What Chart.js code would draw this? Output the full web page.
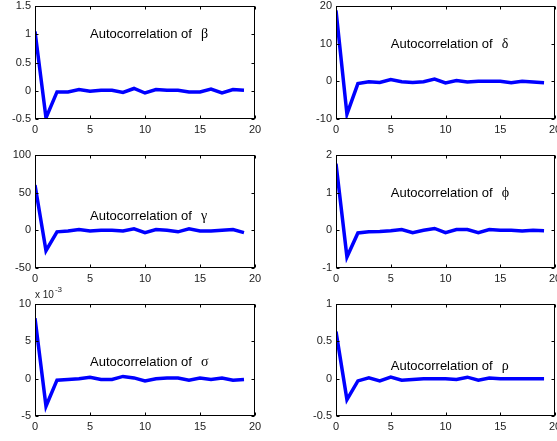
<!DOCTYPE html>
<html><head><meta charset="utf-8">
<script src="https://cdn.jsdelivr.net/npm/chart.js@4"></script>
<style>
html,body{margin:0;padding:0;background:#fff;overflow:hidden;width:557px;height:441px;position:relative}
canvas{position:absolute;left:-20px;top:-20px}
</style></head><body>
<script>
// ---- data ----
const lags = [0,1,2,3,4,5,6,7,8,9,10,11,12,13,14,15,16,17,18,19];
const acBeta  = [1.05,-0.48,-0.02,-0.02,0.02,-0.01,0.01,0.01,-0.03,0.04,-0.04,0.02,0.01,0.01,-0.02,-0.02,0.03,-0.04,0.02,0.01];
const acDelta = [18.8,-8.7,-0.6,-0.1,-0.3,0.5,-0.1,-0.3,-0.1,0.6,-0.4,0.2,-0.2,0.0,0.0,0.0,-0.4,0.0,-0.2,-0.4];
const acGamma = [60,-27,-2,-1,1,-1,0,0,-1,2,-3,1,0,-2,2,-1,-1,0,1,-3];
const acPhi   = [1.77,-0.71,-0.07,-0.04,-0.03,-0.01,0.02,-0.06,0.0,0.05,-0.06,0.02,0.02,-0.06,0.02,0.0,0.0,-0.02,0.0,-0.01];
const acSigma = [0.0081,-0.0037,-0.0002,-0.0001,0.0,0.0002,-0.0001,-0.0001,0.0003,0.0001,-0.0003,0.0,0.0001,0.0001,-0.0002,0.0001,-0.0001,0.0001,-0.0002,-0.0001];
const acRho   = [0.63,-0.28,-0.03,0.01,-0.03,0.02,-0.02,-0.01,0.0,0.0,0.0,-0.01,0.02,-0.02,0.01,0.0,0.0,0.0,0.0,0.0];
const xTicks = [0,5,10,15,20];
const label = 'Autocorrelation of';

const panels = [
  {sym:'β', vals:acBeta,  min:-0.5, max:1.5, step:0.5, rect:[35,6,255,119],   txt:[5,0.99]},
  {sym:'δ', vals:acDelta, min:-10,  max:20,  step:10,  rect:[336,6,555,119],  txt:[5,9.9]},
  {sym:'γ', vals:acGamma, min:-50,  max:100, step:50,  rect:[35,155,255,268], txt:[5,18]},
  {sym:'ϕ', vals:acPhi,   min:-1,   max:2,   step:1,   rect:[336,155,555,268],txt:[5,0.99]},
  {sym:'σ', vals:acSigma, min:-0.005,max:0.01,step:0.005, rect:[35,304,255,416], txt:[5,0.0022], scale:1000},
  {sym:'ρ', vals:acRho,   min:-0.5, max:1,   step:0.5, rect:[336,304,555,416],txt:[5,0.17]}
];

const CW = 600, CH = 500, OFF = 20, YW = 40, XH = 20;
const tickFont = {family:'Liberation Sans, Arial, sans-serif', size:11};

const boxPlugin = {
  id:'boxPlugin',
  afterDraw(chart){
    const p = chart.options.plugins.boxPlugin;
    const ctx = chart.ctx, a = chart.chartArea;
    const xs = chart.scales.x, ys = chart.scales.y;
    ctx.save();
    ctx.strokeStyle = '#000'; ctx.lineWidth = 1;
    const L = Math.round(a.left)+0.5, R = Math.round(a.right)-0.5, T = Math.round(a.top)+0.5, B = Math.round(a.bottom)-0.5;
    ctx.strokeRect(L, T, R-L, B-T);
    ctx.beginPath();
    xs.ticks.forEach(t=>{
      const x = Math.round(xs.getPixelForValue(t.value))+0.5;
      ctx.moveTo(x,B); ctx.lineTo(x,B-3);
      ctx.moveTo(x,T); ctx.lineTo(x,T+3);
    });
    ys.ticks.forEach(t=>{
      const y = Math.round(ys.getPixelForValue(t.value))+0.5;
      ctx.moveTo(L,y); ctx.lineTo(L+3,y);
      ctx.moveTo(R,y); ctx.lineTo(R-3,y);
    });
    ctx.stroke();
    // annotation text
    const tx = xs.getPixelForValue(p.txt[0]), ty = ys.getPixelForValue(p.txt[1]);
    ctx.fillStyle = '#000';
    ctx.textBaseline = 'middle'; ctx.textAlign = 'left';
    ctx.font = '13px "Liberation Sans", Arial, sans-serif';
    ctx.fillText(label, tx, ty);
    const w = ctx.measureText(label).width;
    ctx.font = '14px "Liberation Serif", serif';
    ctx.fillText(p.sym, tx + w + 9, ty);
    if (p.scale) {
      ctx.font = '10px "Liberation Sans", Arial, sans-serif';
      ctx.fillStyle = '#222';
      ctx.fillText('x 10', a.left, a.top - 9);
      const w2 = ctx.measureText('x 10').width;
      ctx.font = '8px "Liberation Sans", Arial, sans-serif';
      ctx.fillText('-3', a.left + w2 + 1, a.top - 14);
    }
    ctx.restore();
  }
};

panels.forEach(p=>{
  const cv = document.createElement('canvas');
  cv.width = CW; cv.height = CH;
  document.body.appendChild(cv);
  const [l,t,r,b] = p.rect;
  new Chart(cv, {
    type:'line',
    data:{datasets:[{
      data: lags.map((x,i)=>({x:x, y:p.vals[i]})),
      borderColor:'#0000ff', borderWidth:3.5, pointRadius:0, tension:0, fill:false
    }]},
    options:{
      responsive:false, animation:false, devicePixelRatio:1,
      layout:{padding:{left:l+OFF-YW, top:t+OFF, right:CW-(r+OFF), bottom:CH-(b+OFF)-XH}},
      plugins:{legend:{display:false}, tooltip:{enabled:false},
        boxPlugin:{txt:p.txt, sym:p.sym, scale:p.scale}},
      scales:{
        x:{type:'linear', min:0, max:20,
          afterBuildTicks(s){ s.ticks = xTicks.map(v=>({value:v})); },
          afterFit(s){ s.height = XH; },
          grid:{display:false, drawTicks:false}, border:{display:false},
          ticks:{font:tickFont, color:'#222', padding:4, maxRotation:0, autoSkip:false,
            callback:v=>String(v)}},
        y:{type:'linear', min:p.min, max:p.max,
          ticks:{stepSize:p.step, font:tickFont, color:'#222', padding:4,
            callback:v=>{ const s = p.scale||1; return String(Math.round(v*s*100)/100); }},
          afterFit(s){ s.width = YW; },
          grid:{display:false, drawTicks:false}, border:{display:false}}
      }
    },
    plugins:[boxPlugin]
  });
});
</script>
</body></html>
